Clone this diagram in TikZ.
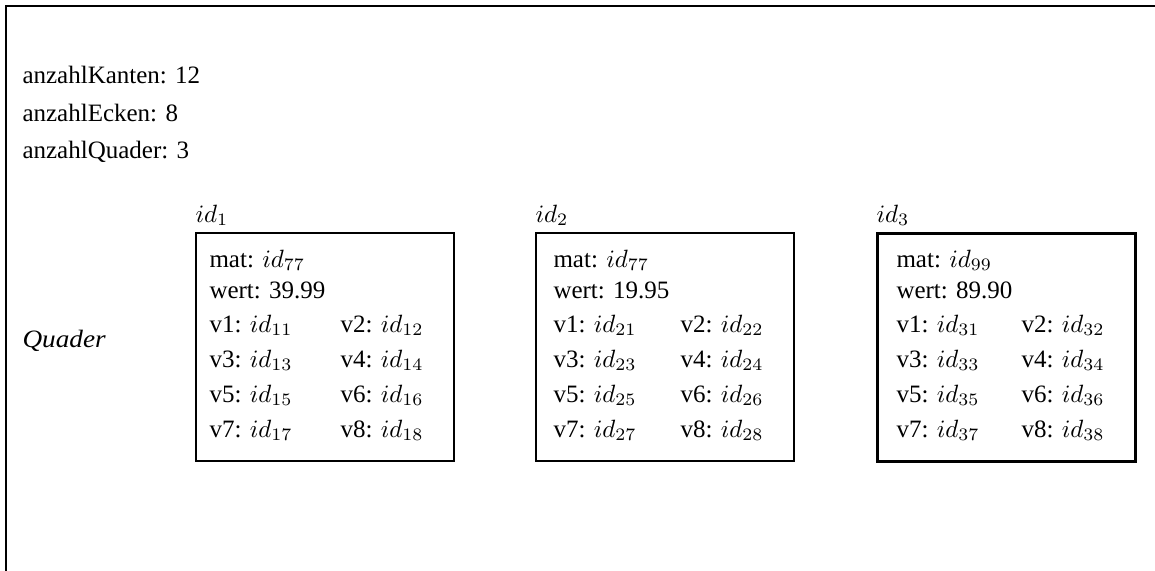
\documentclass[tikz,border=0pt]{standalone}
\usepackage[no-math]{fontspec}
\setmainfont{Liberation Serif}
\usetikzlibrary{calc}
\tikzset{
  frame/.style={line width=2.6pt, line cap=rect},
  qboxstyle/.style={draw, line width=2pt, minimum width=258pt, minimum height=228pt, anchor=north west, inner sep=0pt},
  txt/.style={anchor=base west, inner sep=0pt, scale=2.5, font=\fontsize{10}{12}\selectfont},
}
\newcommand{\quaderbox}[8]{%
  \node[txt] (#1lab) at (#2,222) {$id_{#3}$};
  \node[qboxstyle, #7] (#1) at (#2,232) {};
  \node[txt] (#1mat) at ($(#1.north west)+(#8,35)$) {mat: $id_{#4}$};
  \node[txt] (#1wert) at ($(#1.north west)+(#8,66)$) {wert: #5};
  \node[txt] (#1va) at ($(#1.north west)+(#8,100)$) {v1: $id_{#61}$};
  \node[txt] (#1vb) at ($(#1.north west)+(145,100)$) {v2: $id_{#62}$};
  \node[txt] (#1vc) at ($(#1.north west)+(#8,135)$) {v3: $id_{#63}$};
  \node[txt] (#1vd) at ($(#1.north west)+(145,135)$) {v4: $id_{#64}$};
  \node[txt] (#1ve) at ($(#1.north west)+(#8,170)$) {v5: $id_{#65}$};
  \node[txt] (#1vf) at ($(#1.north west)+(145,170)$) {v6: $id_{#66}$};
  \node[txt] (#1vg) at ($(#1.north west)+(#8,205)$) {v7: $id_{#67}$};
  \node[txt] (#1vh) at ($(#1.north west)+(145,205)$) {v8: $id_{#68}$};
}
\begin{document}
\begin{tikzpicture}[x=1pt, y=-1pt]
\useasboundingbox (0,0) rectangle (1155,570);
\coordinate (fbl) at (6,575);
\coordinate (ftl) at (6,6);
\coordinate (ftr) at (1160,6);
\draw[frame] (fbl) -- (ftl) -- (ftr);
\node[txt] (kanten) at (22,83) {anzahlKanten: 12};
\node[txt] (ecken) at (22,121) {anzahlEcken: 8};
\node[txt] (anzq) at (22,158) {anzahlQuader: 3};
\node[txt, xscale=1.09] (quader) at (22,347) {\itshape Quader};
\quaderbox{qa}{195}{1}{77}{39.99}{1}{}{14}
\quaderbox{qb}{535}{2}{77}{19.95}{2}{}{18}
\quaderbox{qc}{876}{3}{99}{89.90}{3}{line width=2.6pt}{20}
\end{tikzpicture}
\end{document}
